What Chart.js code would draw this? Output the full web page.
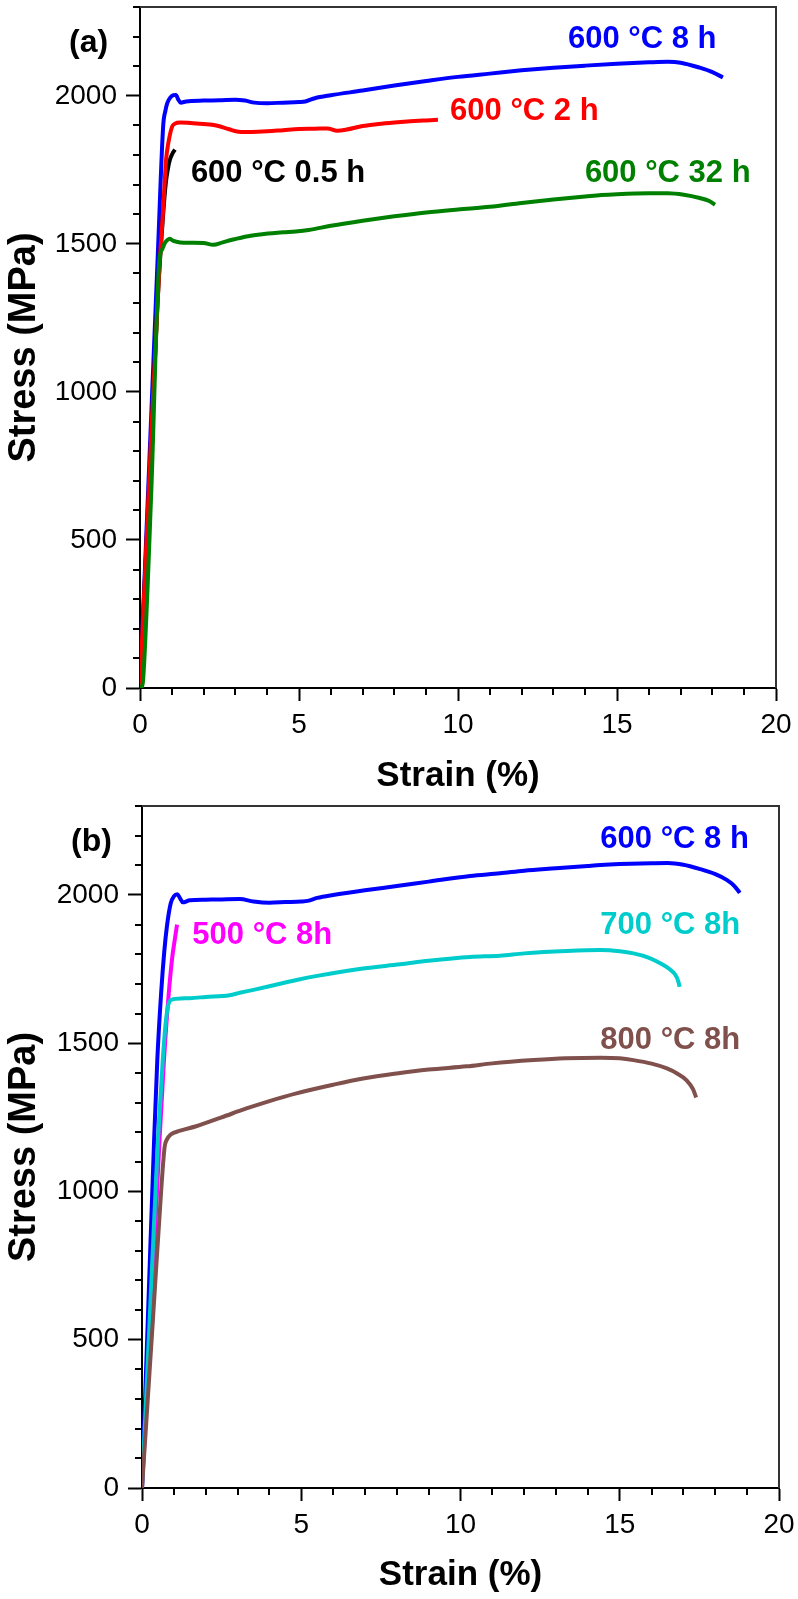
<!DOCTYPE html>
<html>
<head>
<meta charset="utf-8">
<script src="https://cdn.jsdelivr.net/npm/chart.js@4.4.0/dist/chart.umd.min.js"></script>
<style>
  html, body { margin: 0; padding: 0; background: #ffffff; }
  .panel { position: relative; width: 798px; }
  canvas { display: block; }
</style>
</head>
<body>
<div class="panel" style="height:800px"><canvas id="chartA" width="798" height="800"></canvas></div>
<div class="panel" style="height:799px"><canvas id="chartB" width="798" height="799"></canvas></div>
<script>
// Axis ticks (labelled majors; minors are every 1 % strain and 100 MPa)
const xMajorTicks = [0, 5, 10, 15, 20];
const xTickLabels = ['0', '5', '10', '15', '20'];
const yMajorTicks = [0, 500, 1000, 1500, 2000];
const yTickLabels = ['0', '500', '1000', '1500', '2000'];

// Panel (a): 600 °C ageing for different times — [strain %, stress MPa]
const a600_8h = [[0,0],[0.18,466],[0.57,1491],[0.73,1900],[0.8,1950],[0.86,1976],[0.95,1994],[1.05,2002],[1.13,2003],[1.2,1988],[1.28,1977],[1.45,1981],[2,1984],[2.5,1985],[3,1987],[3.3,1984],[3.6,1977],[4,1975],[4.5,1977],[5,1979],[5.2,1981],[5.5,1992],[6,2002],[7,2018],[8,2035],[9,2050],[10,2064],[11,2075],[12,2086],[13,2095],[14,2102],[15,2108],[16,2113],[16.6,2115],[17,2112],[17.6,2095],[18,2080],[18.33,2062]];
const a600_2h = [[0,0],[0.35,850],[0.6,1400],[0.73,1620],[0.82,1784],[0.89,1840],[1.01,1896],[1.1,1906],[1.26,1910],[1.6,1908],[2,1905],[2.4,1900],[2.8,1887],[3.1,1879],[3.5,1878],[4,1880],[4.5,1884],[5,1888],[5.5,1889],[5.9,1890],[6.2,1882],[6.5,1886],[7,1898],[7.5,1905],[8,1910],[8.5,1914],[9,1917],[9.37,1919]];
const a600_05h = [[0,0],[0.3,710],[0.55,1300],[0.73,1603],[0.81,1705],[0.88,1755],[0.94,1784],[1.02,1805],[1.1,1818]];
const a600_32h = [[0.05,0],[0.1,30],[0.35,650],[0.61,1446],[0.7,1482],[0.78,1503],[0.86,1513],[0.94,1517],[1.05,1510],[1.26,1505],[1.6,1504],[2,1503],[2.3,1497],[2.6,1505],[2.9,1514],[3.4,1526],[3.9,1533],[4.5,1539],[4.9,1542],[5.3,1547],[6,1561],[7,1578],[8,1593],[9,1606],[10,1616],[11,1625],[12,1638],[13,1650],[14,1660],[14.5,1665],[15,1668],[16,1671],[16.6,1671],[17.1,1666],[17.6,1655],[17.9,1645],[18.08,1632]];

// Panel (b): 8 h ageing at different temperatures — [strain %, stress MPa]
const b600_8h = [[0,0],[0.2,620],[0.38,1173],[0.48,1443],[0.6,1668],[0.7,1810],[0.78,1892],[0.9,1971],[1.0,1995],[1.11,2002],[1.2,1988],[1.28,1975],[1.5,1982],[2,1984],[2.5,1985],[3.07,1986],[3.5,1978],[4,1974],[4.5,1976],[5,1978],[5.2,1980],[5.5,1990],[6,2000],[7,2016],[8,2030],[9,2045],[10.3,2064],[11.24,2073],[12,2082],[13,2090],[14,2098],[14.4,2101],[15,2104],[16,2107],[16.5,2108],[17,2102],[17.5,2088],[18,2070],[18.37,2050],[18.6,2030],[18.77,2007]];
const b500_8h = [[0,0],[0.3,620],[0.55,1173],[0.69,1443],[0.84,1668],[0.95,1790],[1.03,1850],[1.1,1900]];
const b700_8h = [[0,0],[0.25,590],[0.5,1173],[0.65,1440],[0.75,1575],[0.86,1640],[0.97,1648],[1.5,1652],[2,1656],[2.75,1662],[3.07,1670],[3.5,1680],[4,1692],[4.85,1713],[5.5,1727],[6.94,1752],[8.1,1766],[9,1778],[10.3,1791],[11.24,1795],[12,1803],[13.34,1811],[14.39,1814],[15,1810],[15.43,1803],[15.9,1789],[16.27,1770],[16.55,1751],[16.75,1730],[16.84,1708],[16.88,1690]];
const b800_8h = [[0,0],[0.35,580],[0.6,1000],[0.71,1150],[0.78,1175],[0.9,1192],[1.2,1205],[1.7,1220],[2.5,1250],[3.28,1280],[4,1305],[4.85,1331],[6,1360],[6.94,1381],[8,1398],[9,1411],[10.2,1422],[11,1432],[12.3,1443],[13.3,1449],[14.4,1451],[15,1449],[15.43,1443],[16,1431],[16.48,1415],[16.8,1398],[17.1,1375],[17.3,1345],[17.4,1317]];

const FONT = 'Liberation Sans, Arial, Helvetica, sans-serif';
Chart.defaults.font.family = FONT;
Chart.defaults.color = '#000';

const toXY = arr => arr.map(p => ({ x: p[0], y: p[1] }));

function curve(label, data, color) {
  return {
    label, data: toXY(data), showLine: true, borderColor: color, backgroundColor: color,
    borderWidth: 4, pointRadius: 0, cubicInterpolationMode: 'monotone', fill: false
  };
}

// Short minor tick marks on both axes, plus the thin top/right frame
const frameAndMinorTicks = {
  id: 'frameAndMinorTicks',
  afterDraw(chart) {
    const { ctx, chartArea: ca } = chart;
    const xs = chart.scales.x, ys = chart.scales.y;
    ctx.save();
    ctx.strokeStyle = '#000';
    ctx.lineWidth = 2;
    ctx.beginPath();
    xs.ticks.forEach(t => {
      if (xMajorTicks.includes(t.value)) return;
      const px = Math.round(xs.getPixelForValue(t.value));
      ctx.moveTo(px, ca.bottom); ctx.lineTo(px, ca.bottom + 7);
    });
    ys.ticks.forEach(t => {
      if (yMajorTicks.includes(t.value)) return;
      const py = Math.round(ys.getPixelForValue(t.value));
      ctx.moveTo(ca.left - 7, py); ctx.lineTo(ca.left, py);
    });
    ctx.stroke();
    ctx.strokeStyle = '#333';
    ctx.lineWidth = 2;
    ctx.beginPath();
    ctx.moveTo(ca.left, ca.top); ctx.lineTo(ca.right, ca.top); ctx.lineTo(ca.right, ca.bottom);
    ctx.stroke();
    ctx.restore();
  }
};

// Curve labels anchored in data units, and the panel letter
const curveLabels = {
  id: 'curveLabels',
  afterDatasetsDraw(chart, args, opts) {
    const { ctx, chartArea: ca } = chart;
    const xs = chart.scales.x, ys = chart.scales.y;
    ctx.save();
    ctx.textAlign = 'left';
    ctx.textBaseline = 'middle';
    ctx.font = 'bold 31px ' + FONT;
    (opts.items || []).forEach(it => {
      ctx.fillStyle = it.color;
      ctx.fillText(it.text, xs.getPixelForValue(it.x), ys.getPixelForValue(it.y));
    });
    if (opts.tag) {
      ctx.fillStyle = '#000';
      ctx.font = 'bold 32px ' + FONT;
      ctx.fillText(opts.tag, ca.left - 71, ca.top + 36);
    }
    ctx.restore();
  }
};

function makePanel(id, datasets, items, tag, geom) {
  return new Chart(document.getElementById(id), {
    type: 'scatter',
    data: { datasets },
    plugins: [frameAndMinorTicks, curveLabels],
    options: {
      responsive: false,
      animation: false,
      layout: { padding: { top: geom.top, right: geom.right, left: 0, bottom: 0 } },
      plugins: {
        legend: { display: false },
        tooltip: { enabled: false },
        curveLabels: { items, tag }
      },
      scales: {
        x: {
          type: 'linear', min: 0, max: 20,
          afterFit: s => { s.height = geom.xHeight; s.paddingLeft = 0; s.paddingRight = 0; },
          border: { display: true, color: '#000', width: 2 },
          grid: {
            drawOnChartArea: false, drawTicks: true, tickLength: 13, tickWidth: 2,
            tickColor: c => xMajorTicks.includes(c.tick && c.tick.value) ? '#000' : 'rgba(0,0,0,0)'
          },
          ticks: {
            stepSize: 1, autoSkip: false, maxRotation: 0, padding: 7,
            font: { size: 28 }, color: '#000',
            callback: v => { const i = xMajorTicks.indexOf(v); return i >= 0 ? xTickLabels[i] : ''; }
          },
          title: { display: true, text: 'Strain (%)', font: { size: 35, weight: 'bold' }, color: '#000', padding: { top: 4, bottom: 3 } }
        },
        y: {
          type: 'linear', min: 0, max: 2300,
          afterFit: s => { s.width = geom.yWidth; s.paddingTop = 0; s.paddingBottom = 0; },
          border: { display: true, color: '#000', width: 2 },
          grid: {
            drawOnChartArea: false, drawTicks: true, tickLength: 14, tickWidth: 2,
            tickColor: c => yMajorTicks.includes(c.tick && c.tick.value) ? '#000' : 'rgba(0,0,0,0)'
          },
          ticks: {
            stepSize: 100, autoSkip: false, padding: 9,
            font: { size: 28 }, color: '#000',
            callback: v => { const i = yMajorTicks.indexOf(v); return i >= 0 ? yTickLabels[i] : ''; }
          },
          title: { display: true, text: 'Stress (MPa)', font: { size: 38, weight: 'bold' }, color: '#000', padding: { top: 2, bottom: 4 } }
        }
      }
    }
  });
}

makePanel('chartA', [
  curve('600 °C 32 h', a600_32h, '#008000'),
  curve('600 °C 2 h', a600_2h, '#FF0000'),
  curve('600 °C 0.5 h', a600_05h, '#000000'),
  curve('600 °C 8 h', a600_8h, '#0000FF')
], [
  { text: '600 °C 8 h', x: 13.46, y: 2189, color: '#0000FF' },
  { text: '600 °C 2 h', x: 9.75, y: 1947, color: '#FF0000' },
  { text: '600 °C 0.5 h', x: 1.6, y: 1739, color: '#000000' },
  { text: '600 °C 32 h', x: 13.99, y: 1739, color: '#008000' }
], '(a)', { top: 7, right: 22, yWidth: 140, xHeight: 112 });

makePanel('chartB', [
  curve('800 °C 8h', b800_8h, '#80504D'),
  curve('700 °C 8h', b700_8h, '#00CCCC'),
  curve('600 °C 8 h', b600_8h, '#0000FF'),
  curve('500 °C 8h', b500_8h, '#FF00FF')
], [
  { text: '600 °C 8 h', x: 14.39, y: 2187, color: '#0000FF' },
  { text: '500 °C 8h', x: 1.58, y: 1864, color: '#FF00FF' },
  { text: '700 °C 8h', x: 14.39, y: 1898, color: '#00CCCC' },
  { text: '800 °C 8h', x: 14.39, y: 1510, color: '#80504D' }
], '(b)', { top: 6, right: 19, yWidth: 142, xHeight: 111 });
</script>
</body>
</html>
